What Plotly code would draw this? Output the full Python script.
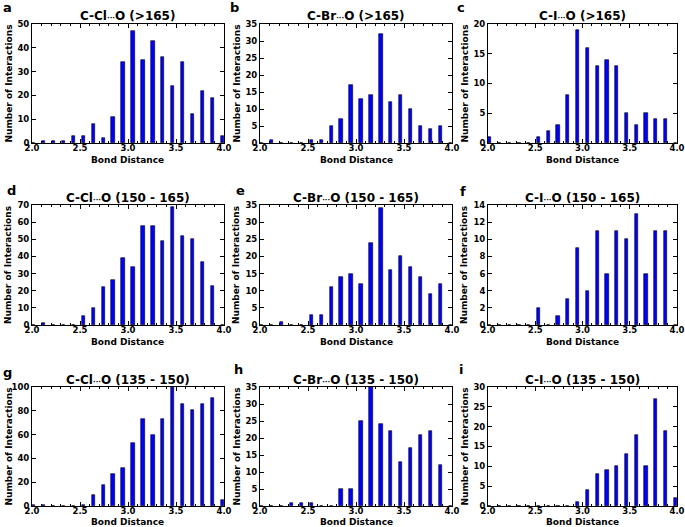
import numpy as np
import plotly.graph_objects as go

# ---------------- data (20 bins, 2.0 ... 3.9 Å) ----------------
bin_labels = [2.0, 2.1, 2.2, 2.3, 2.4, 2.5, 2.6, 2.7, 2.8, 2.9,
              3.0, 3.1, 3.2, 3.3, 3.4, 3.5, 3.6, 3.7, 3.8, 3.9]

cl_gt165 = [0, 1, 1, 1, 3, 3, 8, 2, 11, 34, 47, 35, 43, 36, 24, 34, 12, 22, 19, 3]
br_gt165 = [0, 1, 0, 0, 0, 1, 1, 5, 7, 17, 13, 14, 32, 12, 14, 10, 5, 4, 5, 0]
i_gt165 = [1, 0, 0, 0, 0, 1, 2, 3, 8, 19, 16, 13, 14, 13, 5, 3, 5, 4, 4, 0]

cl_150_165 = [0, 1, 0, 0, 0, 5, 10, 22, 26, 39, 34, 58, 58, 49, 69, 52, 50, 37, 23, 0]
br_150_165 = [0, 0, 1, 0, 0, 3, 3, 11, 14, 15, 12, 24, 34, 16, 20, 17, 14, 9, 12, 0]
i_150_165 = [0, 0, 0, 0, 0, 2, 0, 1, 3, 9, 4, 11, 6, 11, 10, 13, 6, 11, 11, 0]

cl_135_150 = [1, 1, 0, 0, 0, 1, 9, 18, 27, 32, 53, 73, 60, 73, 100, 86, 81, 86, 91, 5]
br_135_150 = [0, 0, 0, 1, 1, 1, 0, 0, 5, 5, 25, 35, 24, 22, 13, 17, 21, 22, 12, 0]
i_135_150 = [0, 0, 0, 0, 0, 0, 0, 0, 0, 1, 4, 8, 9, 10, 13, 18, 10, 27, 19, 2]

DOTS = "<span style='font-size:7px'>···</span>"
titles = [f"C-Cl{DOTS}O (>165)", f"C-Br{DOTS}O (>165)", f"C-I{DOTS}O (>165)",
          f"C-Cl{DOTS}O (150 - 165)", f"C-Br{DOTS}O (150 - 165)", f"C-I{DOTS}O (150 - 165)",
          f"C-Cl{DOTS}O (135 - 150)", f"C-Br{DOTS}O (135 - 150)", f"C-I{DOTS}O (135 - 150)"]
letters = ["a", "b", "c", "d", "e", "f", "g", "h", "i"]
y_max = [50, 35, 20, 70, 35, 14, 100, 35, 30]
y_step = [10, 5, 5, 10, 5, 2, 20, 5, 5]
series = [cl_gt165, br_gt165, i_gt165,
          cl_150_165, br_150_165, i_150_165,
          cl_135_150, br_135_150, i_135_150]

# ---------------- layout geometry (pixels) ----------------
W, H = 685, 527
col_px = [(32, 224), (260, 452), (488, 677)]
row_px = [(24, 143), (205, 325), (387, 506)]
title_y = [16, 198, 380]
xtitle_y = [160, 342, 522]
ytitle_x = [8, 236, 464]
letter_pos = [(8, 8), (234, 8), (461, 8),
              (11, 190), (240, 190), (463, 192),
              (8, 372), (238, 370), (461, 370)]

FONT = "DejaVu Sans"
bar_w = 0.035
bar_left = np.linspace(2.0, 4.0 - bar_w, len(bin_labels))

fig = go.Figure()
annotations = []
for idx in range(9):
    r, c = divmod(idx, 3)
    n = idx + 1
    xa = "x" if n == 1 else f"x{n}"
    ya = "y" if n == 1 else f"y{n}"
    fig.add_trace(go.Bar(
        x=bar_left, y=series[idx], width=bar_w, offset=0,
        marker=dict(color="#0000ff", line=dict(color="black", width=0.6)),
        xaxis=xa, yaxis=ya, showlegend=False,
        customdata=bin_labels,
        hovertemplate="%{customdata:.1f}: %{y}<extra></extra>",
    ))
    x0, x1 = col_px[c]
    y0, y1 = row_px[r]
    common = dict(showline=True, mirror="ticks", linecolor="black", linewidth=1,
                  ticks="inside", tickcolor="black", ticklen=4, showgrid=False,
                  zeroline=False, automargin=False,
                  tickfont=dict(family=FONT, size=8.5, color="black", weight="bold"))
    fig.layout[("xaxis" if n == 1 else f"xaxis{n}")] = dict(
        domain=[x0 / W, x1 / W], range=[2.0, 4.0], tickmode="array",
        tickvals=[2.0, 2.5, 3.0, 3.5, 4.0], ticktext=["2.0", "2.5", "3.0", "3.5", "4.0"],
        anchor=ya, ticklabelstandoff=-3,
        minor=dict(dtick=0.1, tick0=2.0, ticks="inside", ticklen=2, tickcolor="black"),
        **common)
    fig.layout[("yaxis" if n == 1 else f"yaxis{n}")] = dict(
        domain=[1 - y1 / H, 1 - y0 / H], range=[0, y_max[idx]], dtick=y_step[idx],
        tick0=0, anchor=xa, **common)

    cx = (x0 + x1) / 2 / W
    annotations.append(dict(text=titles[idx], x=cx, y=1 - title_y[r] / H,
                            xref="paper", yref="paper", showarrow=False,
                            xanchor="center", yanchor="middle",
                            font=dict(family=FONT, size=12, color="black", weight="bold")))
    annotations.append(dict(text="Bond Distance", x=cx, y=1 - xtitle_y[r] / H,
                            xref="paper", yref="paper", showarrow=False,
                            xanchor="center", yanchor="middle",
                            font=dict(family=FONT, size=9, color="black", weight="bold")))
    annotations.append(dict(text="Number of Interactions", x=ytitle_x[c] / W,
                            y=1 - (y0 + y1) / 2 / H, textangle=-90,
                            xref="paper", yref="paper", showarrow=False,
                            xanchor="center", yanchor="middle",
                            font=dict(family=FONT, size=9, color="black", weight="bold")))
    lx, ly = letter_pos[idx]
    annotations.append(dict(text=letters[idx], x=lx / W, y=1 - ly / H,
                            xref="paper", yref="paper", showarrow=False,
                            xanchor="center", yanchor="middle",
                            font=dict(family=FONT, size=13, color="black", weight="bold")))

fig.update_layout(width=W, height=H,
                  margin=dict(l=0, r=0, t=0, b=0, pad=0, autoexpand=False),
                  paper_bgcolor="white", plot_bgcolor="white",
                  annotations=annotations, bargap=0)
fig.write_html("out.html", config={"displayModeBar": False},
               post_script="document.body.style.margin='0';document.body.style.overflow='hidden';")
